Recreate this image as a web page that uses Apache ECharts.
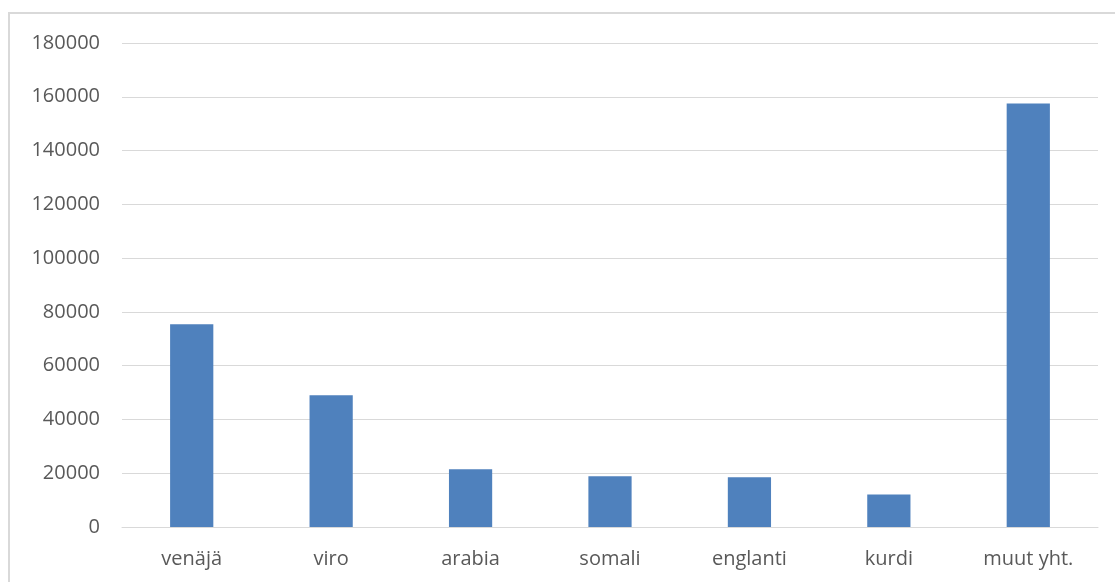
<!DOCTYPE html>
<html>
<head>
<meta charset="utf-8">
<script src="https://cdn.jsdelivr.net/npm/echarts@6/dist/echarts.min.js"></script>
<style>
  html, body { margin: 0; padding: 0; background: #fff; }
  #chart { width: 1115px; height: 582px; }
  #frame {
    position: absolute; left: 8px; top: 12px; width: 1120px; height: 600px;
    border-left: 2px solid #d9d9d9; border-top: 2px solid #d9d9d9;
    pointer-events: none;
  }
</style>
</head>
<body>
<div id="chart"></div>
<div id="frame"></div>
<script>
// kielet ja puhujamäärät
var categories = ['venäjä', 'viro', 'arabia', 'somali', 'englanti', 'kurdi', 'muut yht.']
var speakers = [75400, 49000, 21500, 18900, 18500, 12100, 157500]

var chart = echarts.init(document.getElementById('chart'))

chart.setOption({
  backgroundColor: 'transparent',
  animation: false,
  grid: {
    left: 122,
    right: 17,
    top: 43,
    bottom: 55
  },
  xAxis: {
    type: 'category',
    data: categories,
    axisLine: {
      lineStyle: { color: '#d9d9d9', width: 1 }
    },
    axisTick: { show: false },
    axisLabel: {
      color: '#595959',
      fontFamily: 'Open Sans',
      fontSize: 20,
      margin: 22
    }
  },
  yAxis: {
    type: 'value',
    min: 0,
    max: 180000,
    interval: 20000,
    axisLine: { show: false },
    axisTick: { show: false },
    splitLine: {
      lineStyle: { color: '#d9d9d9', width: 1 }
    },
    axisLabel: {
      color: '#595959',
      fontFamily: 'Open Sans',
      fontSize: 20,
      margin: 22,
      formatter: function(v) { return String(v) }
    }
  },
  series: [{
    type: 'bar',
    data: speakers,
    barWidth: '31%',
    itemStyle: { color: '#4f81bd' }
  }]
})
</script>
</body>
</html>
